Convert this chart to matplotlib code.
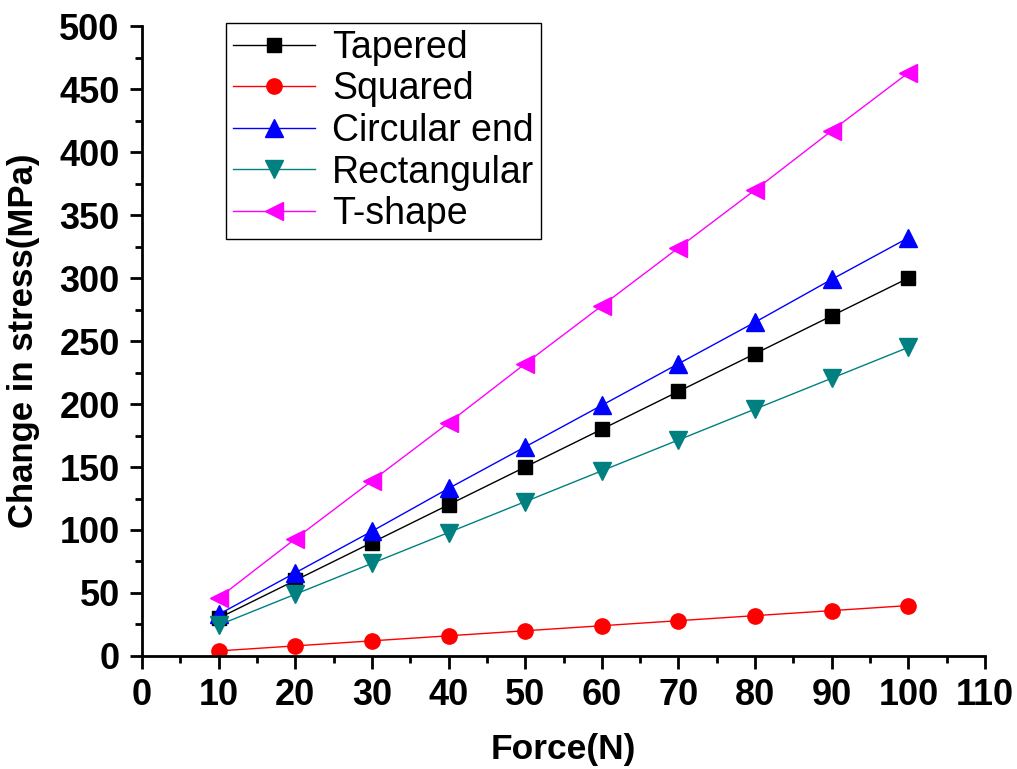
import matplotlib
matplotlib.use('Agg')
import matplotlib.pyplot as plt
from matplotlib.ticker import MultipleLocator

plt.rc('font', family='Liberation Sans')

# Data
force = [10, 20, 30, 40, 50, 60, 70, 80, 90, 100]
tapered = [30, 60, 90, 120, 150, 180, 210, 240, 270, 300]
squared = [4, 8, 12, 16, 20, 24, 28, 32, 36, 40]
circular = [33, 66, 99, 133, 166, 199, 232, 265, 299, 332]
rectangular = [24.5, 49, 73.5, 98, 122.5, 147, 171.5, 196, 220.5, 245]
tshape = [46, 93, 139, 185, 232, 278, 324, 370, 417, 463]

fig = plt.figure(figsize=(10.17, 7.69), dpi=100)
ax = fig.add_axes([0.1396, 0.147, 0.829, 0.819])

ax.plot(force, tapered, color='black', lw=1, marker='s', ms=10, label='Tapered')
ax.plot(force, squared, color='red', lw=1, marker='o', ms=11, label='Squared')
ax.plot(force, circular, color='blue', lw=1, marker='^', ms=13, label='Circular end')
ax.plot(force, rectangular, color='#008080', lw=1, marker='v', ms=13, label='Rectangular')
ax.plot(force, tshape, color='#FF00FF', lw=1, marker='<', ms=13, label='T-shape')

ax.set_xlim(0, 110)
ax.set_ylim(0, 500)
ax.xaxis.set_major_locator(MultipleLocator(10))
ax.xaxis.set_minor_locator(MultipleLocator(5))
ax.yaxis.set_major_locator(MultipleLocator(50))
ax.yaxis.set_minor_locator(MultipleLocator(25))

for s in ['top', 'right']:
    ax.spines[s].set_visible(False)
for s in ['left', 'bottom']:
    ax.spines[s].set_linewidth(2)

ax.tick_params(which='major', direction='out', length=9, width=2, labelsize=26, pad=7)
ax.tick_params(which='minor', direction='out', length=5, width=2)
for lab in ax.get_xticklabels() + ax.get_yticklabels():
    lab.set_fontweight('bold')

ax.set_xlabel('Force(N)', fontsize=25.5, fontweight='bold', labelpad=14)
ax.set_ylabel('Change in stress(MPa)', fontsize=25, fontweight='bold', labelpad=14)

leg = ax.legend(loc='upper left', bbox_to_anchor=(0.0996, 1.005), borderaxespad=0,
                fontsize=27, handlelength=2.2, labelspacing=0.15, handletextpad=0.45,
                borderpad=0.18, fancybox=False, edgecolor='black', framealpha=1)
leg.get_frame().set_linewidth(1)

plt.savefig('out.png', dpi=100)
